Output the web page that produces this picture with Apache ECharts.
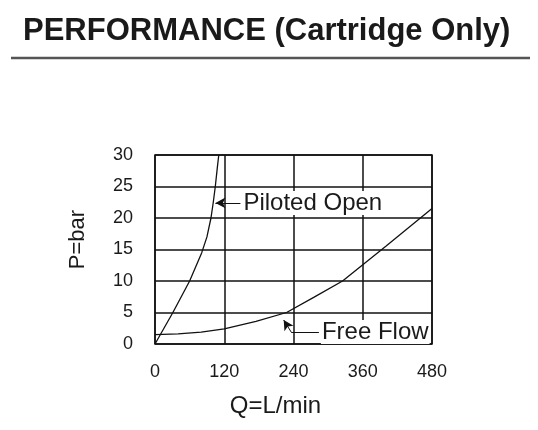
<!DOCTYPE html>
<html>
<head>
<meta charset="utf-8">
<script src="https://cdn.jsdelivr.net/npm/echarts@6/dist/echarts.min.js"></script>
<style>
  html, body { margin: 0; padding: 0; background: #fff; }
  #main { width: 538px; height: 430px; }
</style>
</head>
<body>
<div id="main"></div>
<script>
// data
var titleText = 'PERFORMANCE (Cartridge Only)';
var xTicks = [0, 120, 240, 360, 480];
var yTicks = [0, 5, 10, 15, 20, 25, 30];
var pilotedOpen = [[0, 0], [31, 5], [60, 10], [81, 14.5], [90, 17], [97, 20], [101, 22.5], [104.5, 25], [108, 28], [110.5, 30]];
var freeFlow = [[0, 1.5], [40, 1.6], [80, 1.9], [120, 2.4], [175, 3.6], [228, 5], [275, 7.4], [325, 10], [400, 15.5], [480, 21.5]];
// annotation arrows (data units)
var pilotedArrow = [[148, 22.4], [104.7, 22.4]];
var freeArrowTail = [[284, 1.9], [236, 1.9]];
var freeArrowHead = [[236, 1.9], [223, 3.8]];

var font = 'Liberation Sans, Arial, sans-serif';
var myChart = echarts.init(document.getElementById('main'));

var lbl = {
    show: true, position: 'start', distance: 2,
    color: '#1a1a1a', fontSize: 24, fontFamily: font,
    backgroundColor: '#fff', padding: [0, 1]
};
var solid = { type: 'solid', color: '#111', width: 1 };

myChart.setOption({
    animation: false,
    title: {
        text: titleText, left: 18, top: 11,
        textStyle: { fontSize: 31, fontWeight: 'bold', fontFamily: font, color: '#1a1a1a' }
    },
    graphic: [{
        type: 'line', shape: { x1: 11, y1: 58, x2: 530, y2: 58 },
        style: { stroke: '#555', lineWidth: 2.5 }
    }],
    grid: { left: 155, right: 106, top: 155, bottom: 86, show: true, borderColor: '#111', borderWidth: 1.5 },
    xAxis: {
        type: 'value', min: xTicks[0], max: xTicks[xTicks.length - 1], interval: 120,
        name: 'Q=L/min', nameLocation: 'middle', nameGap: 50,
        nameTextStyle: { fontSize: 24, fontFamily: font, color: '#1a1a1a', padding: [0, 36, 0, 0] },
        axisLine: { show: false }, axisTick: { show: false },
        axisLabel: { fontSize: 18, fontFamily: font, color: '#1a1a1a', margin: 19 },
        splitLine: { lineStyle: { color: '#111', width: 1.5 } }
    },
    yAxis: {
        type: 'value', min: yTicks[0], max: yTicks[yTicks.length - 1], interval: 5,
        name: 'P=bar', nameLocation: 'middle', nameGap: 66,
        nameTextStyle: { fontSize: 22, fontFamily: font, color: '#1a1a1a', padding: [0, 0, 0, 20] },
        axisLine: { show: false }, axisTick: { show: false },
        axisLabel: { fontSize: 18, fontFamily: font, color: '#1a1a1a', margin: 22 },
        splitLine: { lineStyle: { color: '#111', width: 1.5 } }
    },
    series: [{
        name: 'Piloted Open', type: 'line', data: pilotedOpen, showSymbol: false,
        lineStyle: { color: '#111', width: 1.3 },
        markLine: {
            silent: true, symbol: ['none', 'arrow'], symbolSize: [8, 10], lineStyle: solid,
            data: [[
                { coord: pilotedArrow[0], label: Object.assign({ formatter: 'Piloted Open' }, lbl) },
                { coord: pilotedArrow[1] }
            ]]
        }
    }, {
        name: 'Free Flow', type: 'line', data: freeFlow, showSymbol: false,
        lineStyle: { color: '#111', width: 1.3 },
        markLine: {
            silent: true, symbol: ['none', 'arrow'], symbolSize: [8, 10], lineStyle: solid,
            data: [[
                { coord: freeArrowTail[0], symbol: 'none', label: Object.assign({ formatter: 'Free Flow' }, lbl) },
                { coord: freeArrowTail[1], symbol: 'none' }
            ], [
                { coord: freeArrowHead[0], label: { show: false } },
                { coord: freeArrowHead[1] }
            ]]
        }
    }]
});
</script>
</body>
</html>
